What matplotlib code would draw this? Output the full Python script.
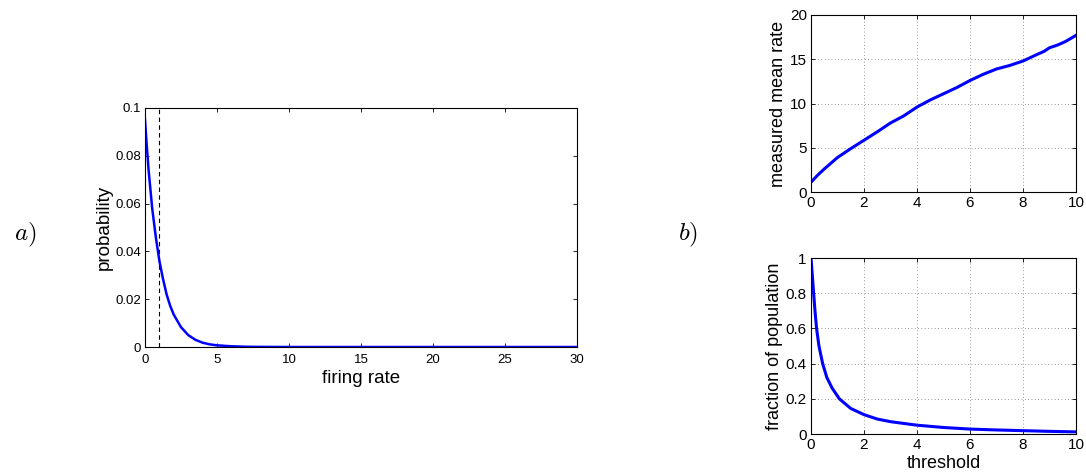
import numpy as np
import matplotlib
matplotlib.use('Agg')
import matplotlib.pyplot as plt

plt.rcParams['font.family'] = ['Liberation Sans', 'DejaVu Sans']
plt.rcParams['mathtext.fontset'] = 'cm'

# a) firing rate distribution
rate = [0, 0.125, 0.25, 0.375, 0.5, 0.75, 1, 1.25, 1.5, 1.75, 2, 2.5, 3, 3.5, 4, 4.5, 5, 6, 7, 8, 10, 30]
prob = [0.095, 0.084, 0.074, 0.066, 0.058, 0.046, 0.036, 0.0285, 0.022, 0.0172, 0.0135, 0.0083,
        0.005, 0.003, 0.0018, 0.0011, 0.0007, 0.0003, 0.0001, 0.00004, 0, 0]
rate_mark = 1

# b) top: measured mean rate vs threshold
thr_top = [0, 0.25, 0.5, 1, 1.5, 2, 2.5, 3, 3.5, 4, 4.5, 5, 5.5, 6, 6.5, 7, 7.5, 8, 8.5, 8.8, 9, 9.3, 9.6, 10]
mean_rate = [1.1, 1.9, 2.6, 3.9, 4.9, 5.85, 6.8, 7.8, 8.6, 9.6, 10.4, 11.1, 11.8, 12.6, 13.3, 13.9, 14.3, 14.8, 15.5, 15.9, 16.3, 16.6, 17.0, 17.7]

# b) bottom: fraction of population vs threshold
thr_bot = [0, 0.05, 0.1, 0.15, 0.21, 0.3, 0.44, 0.6, 0.8, 1.07, 1.5, 2, 2.5, 3, 4, 5, 6, 7, 8, 9, 10]
fraction = [1.0, 0.9, 0.8, 0.7, 0.6, 0.5, 0.4, 0.32, 0.26, 0.2, 0.145, 0.11, 0.085, 0.07, 0.05, 0.037, 0.028, 0.023, 0.019, 0.015, 0.012]

W, H = 1086, 476
fig = plt.figure(figsize=(W / 100, H / 100), dpi=100)

def box(l, t, r, b):
    return [l / W, 1 - b / H, (r - l) / W, (b - t) / H]

def matlab_style(ax, fs, pad=3):
    ax.tick_params(direction='in', top=True, right=True, labelsize=fs, length=3, width=0.6, pad=pad)
    for s in ax.spines.values():
        s.set_linewidth(0.8)

ax1 = fig.add_axes(box(145, 108, 577, 347))
ax1.plot(rate, prob, color='#0000ff', lw=1.8)
ax1.axvline(rate_mark, color='black', ls='--', lw=0.8, dashes=(4, 3))
ax1.set_xlim(0, 30)
ax1.set_ylim(0, 0.1)
ax1.set_xticks([0, 5, 10, 15, 20, 25, 30])
ax1.set_yticks([0, 0.02, 0.04, 0.06, 0.08, 0.1])
ax1.set_yticklabels(['0', '0.02', '0.04', '0.06', '0.08', '0.1'])
matlab_style(ax1, 9.5)
ax1.tick_params(axis='x', pad=5)
ax1.set_xlabel('firing rate', fontsize=13.5, labelpad=3)
ax1.set_ylabel('probability', fontsize=13.5, labelpad=2)

grid_kw = dict(ls=(0, (1, 3)), color='#777777', lw=0.6)

ax2 = fig.add_axes(box(811, 15, 1076, 192))
ax2.plot(thr_top, mean_rate, color='#0000ff', lw=2.2)
ax2.set_xlim(0, 10)
ax2.set_ylim(0, 20)
ax2.set_xticks(range(0, 11, 2))
ax2.set_yticks(range(0, 21, 5))
ax2.grid(True, **grid_kw)
matlab_style(ax2, 11)
ax2.set_ylabel('measured mean rate', fontsize=13, labelpad=2)

ax3 = fig.add_axes(box(811, 258, 1076, 434))
ax3.plot(thr_bot, fraction, color='#0000ff', lw=2.2)
ax3.set_xlim(0, 10)
ax3.set_ylim(0, 1)
ax3.set_xticks(range(0, 11, 2))
ax3.set_yticks([0, 0.2, 0.4, 0.6, 0.8, 1])
ax3.set_yticklabels(['0', '0.2', '0.4', '0.6', '0.8', '1'])
ax3.grid(True, **grid_kw)
matlab_style(ax3, 11)
ax3.set_xlabel('threshold', fontsize=13, labelpad=2)
ax3.set_ylabel('fraction of population', fontsize=13, labelpad=2)

fig.text(25 / W, 1 - 235 / H, '$a)$', fontsize=18, ha='center', va='center')
fig.text(688 / W, 1 - 235 / H, '$b)$', fontsize=18, ha='center', va='center')

fig.savefig('out.png', dpi=100)
